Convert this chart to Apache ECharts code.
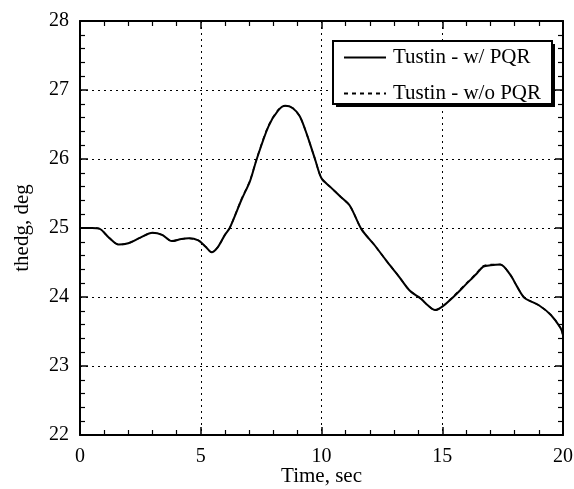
<!DOCTYPE html>
<html><head><meta charset="utf-8">
<script src="https://cdn.jsdelivr.net/npm/echarts@6/dist/echarts.min.js"></script>
<style>html,body{margin:0;padding:0;background:#fff}#c{width:574px;height:489px}</style>
</head><body><div id="c"></div>
<script>
const time = [0,0.5,0.8,1.2,1.6,2.0,2.5,3.0,3.4,3.8,4.2,4.5,4.9,5.2,5.45,5.7,6.0,6.2,6.7,7.04,7.32,7.8,8.2,8.5,8.8,9.1,9.4,9.73,10.0,10.35,10.8,11.18,11.66,12.2,12.7,13.2,13.66,14.1,14.4,14.7,15.0,15.46,16.0,16.4,16.7,17.0,17.4,17.8,18.1,18.4,19.0,19.5,19.9,20.0];
const withPQR = [25.0,25.0,24.99,24.86,24.76,24.78,24.86,24.93,24.9,24.81,24.84,24.85,24.82,24.73,24.65,24.72,24.9,25.0,25.42,25.68,26.0,26.47,26.7,26.77,26.74,26.62,26.35,26.0,25.72,25.6,25.45,25.32,24.98,24.75,24.52,24.3,24.09,23.98,23.88,23.81,23.86,24.0,24.19,24.33,24.44,24.46,24.47,24.33,24.15,23.99,23.88,23.74,23.55,23.45];
const withoutPQR = [25.0,25.0,24.99,24.86,24.76,24.78,24.86,24.93,24.9,24.81,24.84,24.85,24.82,24.73,24.65,24.72,24.9,25.0,25.43,25.69,26.01,26.48,26.71,26.77,26.74,26.62,26.35,26.0,25.72,25.6,25.45,25.32,24.98,24.75,24.52,24.3,24.09,23.98,23.88,23.81,23.86,24.01,24.2,24.34,24.45,24.47,24.47,24.33,24.15,23.99,23.88,23.74,23.55,23.45];
const seriesNames = ['Tustin - w/ PQR','Tustin - w/o PQR'];
const xTicks = {min:0,max:20,interval:5};
const yTicks = {min:22,max:28,interval:1};

const font = 'Liberation Serif';
const chart = echarts.init(document.getElementById('c'));
const zip = (xs, ys) => xs.map((x,i)=>[x, ys[i]]);
const baseAxis = {
  axisLine:{show:true,onZero:false,lineStyle:{color:'#000',width:2}},
  axisTick:{show:true,inside:true,length:8,lineStyle:{color:'#000',width:1.5}},
  minorTick:{show:true,splitNumber:5,length:5,lineStyle:{color:'#000',width:1.2}},
};
chart.setOption({
  animation:false,
  backgroundColor:'#fff',
  grid:{left:80,right:11,top:21,bottom:54,containLabel:false,outerBoundsMode:'none'},
  graphic:[
    {type:'rect', z:3, silent:true, shape:{x:336,y:44,width:219,height:63}, style:{fill:'#000'}},
    {type:'rect', z:3, silent:true, shape:{x:333,y:41,width:219,height:63}, style:{fill:'#fff',stroke:'#000',lineWidth:2}}
  ],
  legend:{
    show:true, orient:'vertical', left:343, top:47, z:5,
    data:seriesNames,
    itemWidth:42, itemHeight:10, itemGap:15,
    padding:0,
    backgroundColor:'transparent', borderWidth:0,
    itemStyle:{opacity:0},
    textStyle:{fontFamily:font,fontSize:21,color:'#000',padding:[0,0,0,2]},
    selectedMode:false
  },
  xAxis:[
    Object.assign({}, baseAxis, {type:'value', position:'bottom', min:xTicks.min, max:xTicks.max, interval:xTicks.interval,
      name:'Time, sec', nameLocation:'middle', nameGap:31, nameMoveOverlap:false,
      nameTextStyle:{fontFamily:font,fontSize:21,color:'#000',verticalAlign:'top'},
      axisLabel:{fontFamily:font,fontSize:20,color:'#000',margin:12},
      splitLine:{show:true,lineStyle:{color:'#000',type:[2,4],width:1}}}),
    Object.assign({}, baseAxis, {type:'value', position:'top', min:xTicks.min, max:xTicks.max, interval:xTicks.interval,
      axisLabel:{show:false}, splitLine:{show:false}})
  ],
  yAxis:[
    Object.assign({}, baseAxis, {type:'value', position:'left', min:yTicks.min, max:yTicks.max, interval:yTicks.interval,
      name:'thedg, deg', nameLocation:'middle', nameGap:47, nameRotate:90, nameMoveOverlap:false,
      nameTextStyle:{fontFamily:font,fontSize:21,color:'#000'},
      axisLabel:{fontFamily:font,fontSize:20,color:'#000',margin:11},
      splitLine:{show:true,lineStyle:{color:'#000',type:[2,4],width:1}}}),
    Object.assign({}, baseAxis, {type:'value', position:'right', min:yTicks.min, max:yTicks.max, interval:yTicks.interval,
      axisLabel:{show:false}, splitLine:{show:false}})
  ],
  series:[
    {name:seriesNames[0], type:'line', data:zip(time,withPQR), symbol:'none', smooth:0.3, z:2,
      lineStyle:{color:'#000',width:2,type:'solid'}, itemStyle:{color:'#000'}},
    {name:seriesNames[1], type:'line', data:zip(time,withoutPQR), symbol:'none', smooth:0.3, z:2,
      lineStyle:{color:'#000',width:1.5,type:[4,4]}, itemStyle:{color:'#000'}}
  ]
});
</script></body></html>
